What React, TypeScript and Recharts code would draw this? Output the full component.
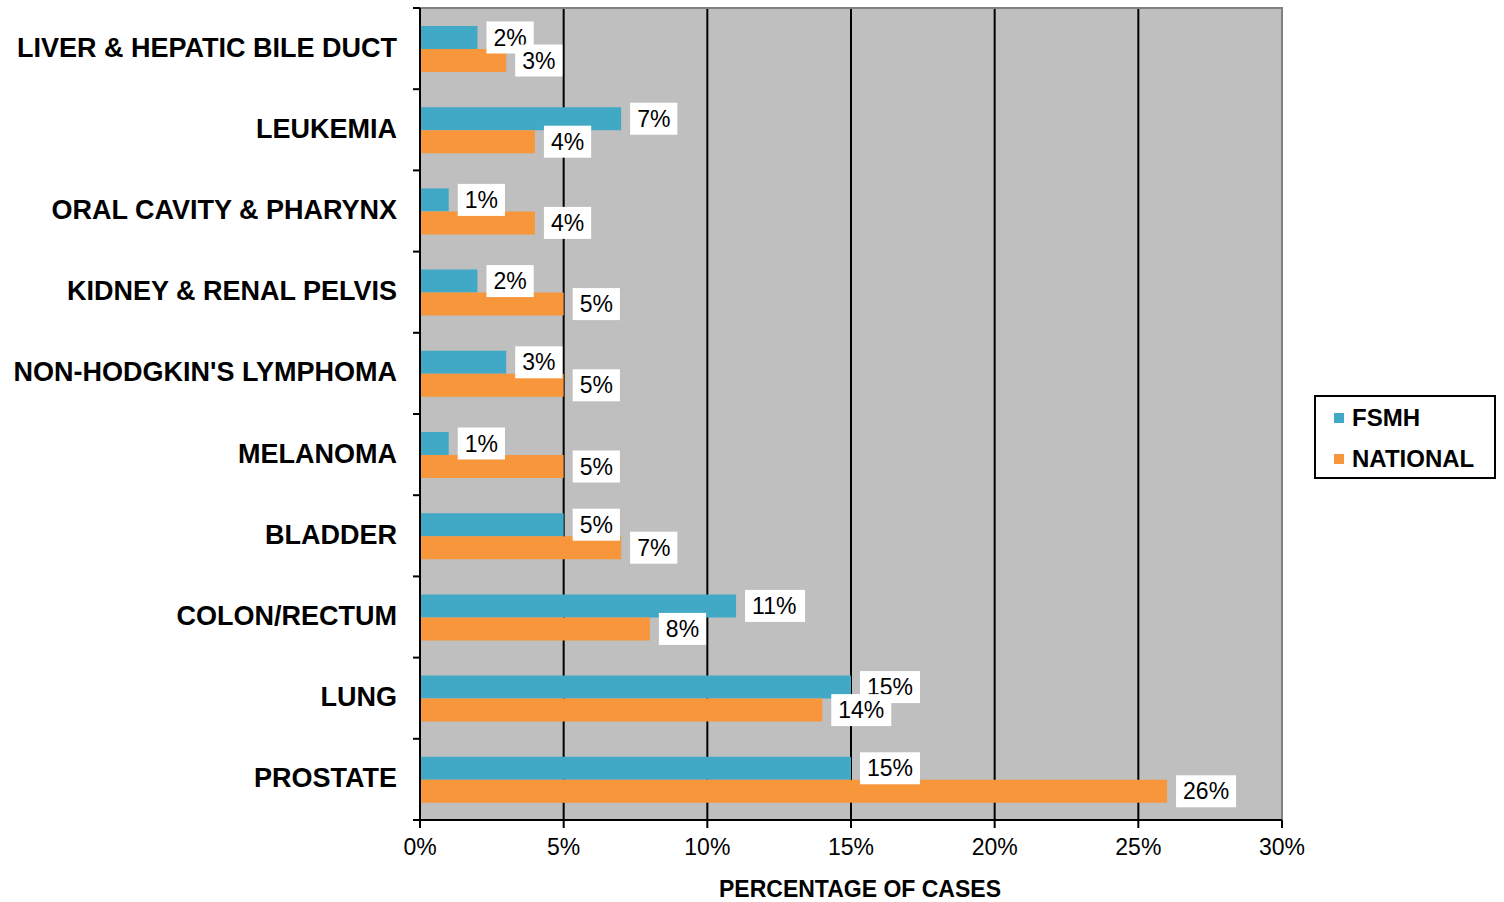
import {
  Bar,
  BarChart,
  CartesianGrid,
  LabelList,
  ReferenceArea,
  XAxis,
  YAxis,
} from "recharts";

const CATEGORIES = [
  "LIVER & HEPATIC BILE DUCT",
  "LEUKEMIA",
  "ORAL CAVITY & PHARYNX",
  "KIDNEY & RENAL PELVIS",
  "NON-HODGKIN'S LYMPHOMA",
  "MELANOMA",
  "BLADDER",
  "COLON/RECTUM",
  "LUNG",
  "PROSTATE",
];
const FSMH = [2, 7, 1, 2, 3, 1, 5, 11, 15, 15];
const NATIONAL = [3, 4, 4, 5, 5, 5, 7, 8, 14, 26];
const X_TICKS = [0, 5, 10, 15, 20, 25, 30];

const TEAL = "#41A9C6";
const ORANGE = "#F7963A";
const PLOT_BG = "#BFBFBF";
const FONT = "'Liberation Sans', Arial, Helvetica, sans-serif";

const TICK_SIZE = 7;
const TICK_MARGIN = 16;

const data = CATEGORIES.map((name, i) => ({
  name,
  fsmh: FSMH[i],
  national: NATIONAL[i],
}));

function CategoryTick(props: any) {
  const { x, y, payload, index, visibleTicksCount } = props;
  const half = payload?.offset ?? 40.6;
  const axisX = x + TICK_SIZE + TICK_MARGIN;
  const last = index === (visibleTicksCount ?? CATEGORIES.length) - 1;
  return (
    <g>
      <line x1={axisX - TICK_SIZE} x2={axisX} y1={y - half} y2={y - half} stroke="#000" strokeWidth={2} />
      {last && (
        <line x1={axisX - TICK_SIZE} x2={axisX} y1={y + half} y2={y + half} stroke="#000" strokeWidth={2} />
      )}
      <text
        x={x}
        y={y - 1}
        textAnchor="end"
        dominantBaseline="central"
        fontFamily={FONT}
        fontWeight="bold"
        fontSize={27}
        fill="#000"
      >
        {payload.value}
      </text>
    </g>
  );
}

function ValueBox(props: any) {
  const { x, y, width, height, value } = props;
  const text = `${value}%`;
  const digits = String(value).length;
  const textW = 23 * (0.556 * digits + 0.889);
  const boxW = textW + 14;
  const boxH = 32;
  const bx = x + width + 9;
  const cy = y + height / 2;
  return (
    <g>
      <rect x={bx} y={cy - boxH / 2} width={boxW} height={boxH} fill="#fff" />
      <text
        x={bx + 7}
        y={cy}
        dominantBaseline="central"
        fontFamily={FONT}
        fontSize={23}
        fill="#000"
      >
        {text}
      </text>
    </g>
  );
}

function LegendBox() {
  const row = (color: string, label: string) => (
    <div style={{ display: "flex", alignItems: "center", height: 41 }}>
      <span style={{ width: 10, height: 10, background: color, marginRight: 8 }} />
      <span style={{ fontWeight: "bold", fontSize: 24, color: "#000" }}>{label}</span>
    </div>
  );
  return (
    <div
      style={{
        position: "absolute",
        left: 1314,
        top: 395,
        width: 182,
        height: 84,
        boxSizing: "border-box",
        border: "2px solid #000",
        background: "#fff",
        paddingLeft: 18,
        fontFamily: FONT,
      }}
    >
      {row(TEAL, "FSMH")}
      {row(ORANGE, "NATIONAL")}
    </div>
  );
}

export default function App() {
  return (
    <div style={{ position: "absolute", left: 0, top: 0, width: 1504, height: 902, background: "#fff" }}>
      <BarChart
        width={1504}
        height={902}
        data={data}
        layout="vertical"
        margin={{ top: 8, right: 222, bottom: 0, left: 0 }}
        barGap={0}
        barSize={23}
      >
        <CartesianGrid horizontal={false} vertical stroke="#000" strokeWidth={2} fill={PLOT_BG} />
        <ReferenceArea x1={0} x2={30} fill="none" stroke="#808080" strokeWidth={2} ifOverflow="visible" />
        <XAxis
          type="number"
          domain={[0, 30]}
          ticks={X_TICKS}
          tickFormatter={(v: number) => `${v}%`}
          axisLine={{ stroke: "#000", strokeWidth: 2 }}
          tickLine={{ stroke: "#000", strokeWidth: 2 }}
          tickSize={8}
          tickMargin={11}
          tick={{ fontSize: 23, fill: "#000", fontFamily: FONT }}
          height={82}
          label={{
            value: "PERCENTAGE OF CASES",
            position: "insideBottom",
            offset: 5,
            dx: 9,
            style: { fontFamily: FONT, fontWeight: "bold", fontSize: 23, fill: "#000" },
          }}
        />
        <YAxis
          type="category"
          dataKey="name"
          width={420}
          axisLine={{ stroke: "#000", strokeWidth: 2 }}
          tickLine={false}
          tickSize={TICK_SIZE}
          tickMargin={TICK_MARGIN}
          interval={0}
          tick={<CategoryTick />}
        />
        <Bar dataKey="fsmh" fill={TEAL} isAnimationActive={false}>
          <LabelList dataKey="fsmh" content={<ValueBox />} />
        </Bar>
        <Bar dataKey="national" fill={ORANGE} isAnimationActive={false}>
          <LabelList dataKey="national" content={<ValueBox />} />
        </Bar>
      </BarChart>
      <LegendBox />
    </div>
  );
}
